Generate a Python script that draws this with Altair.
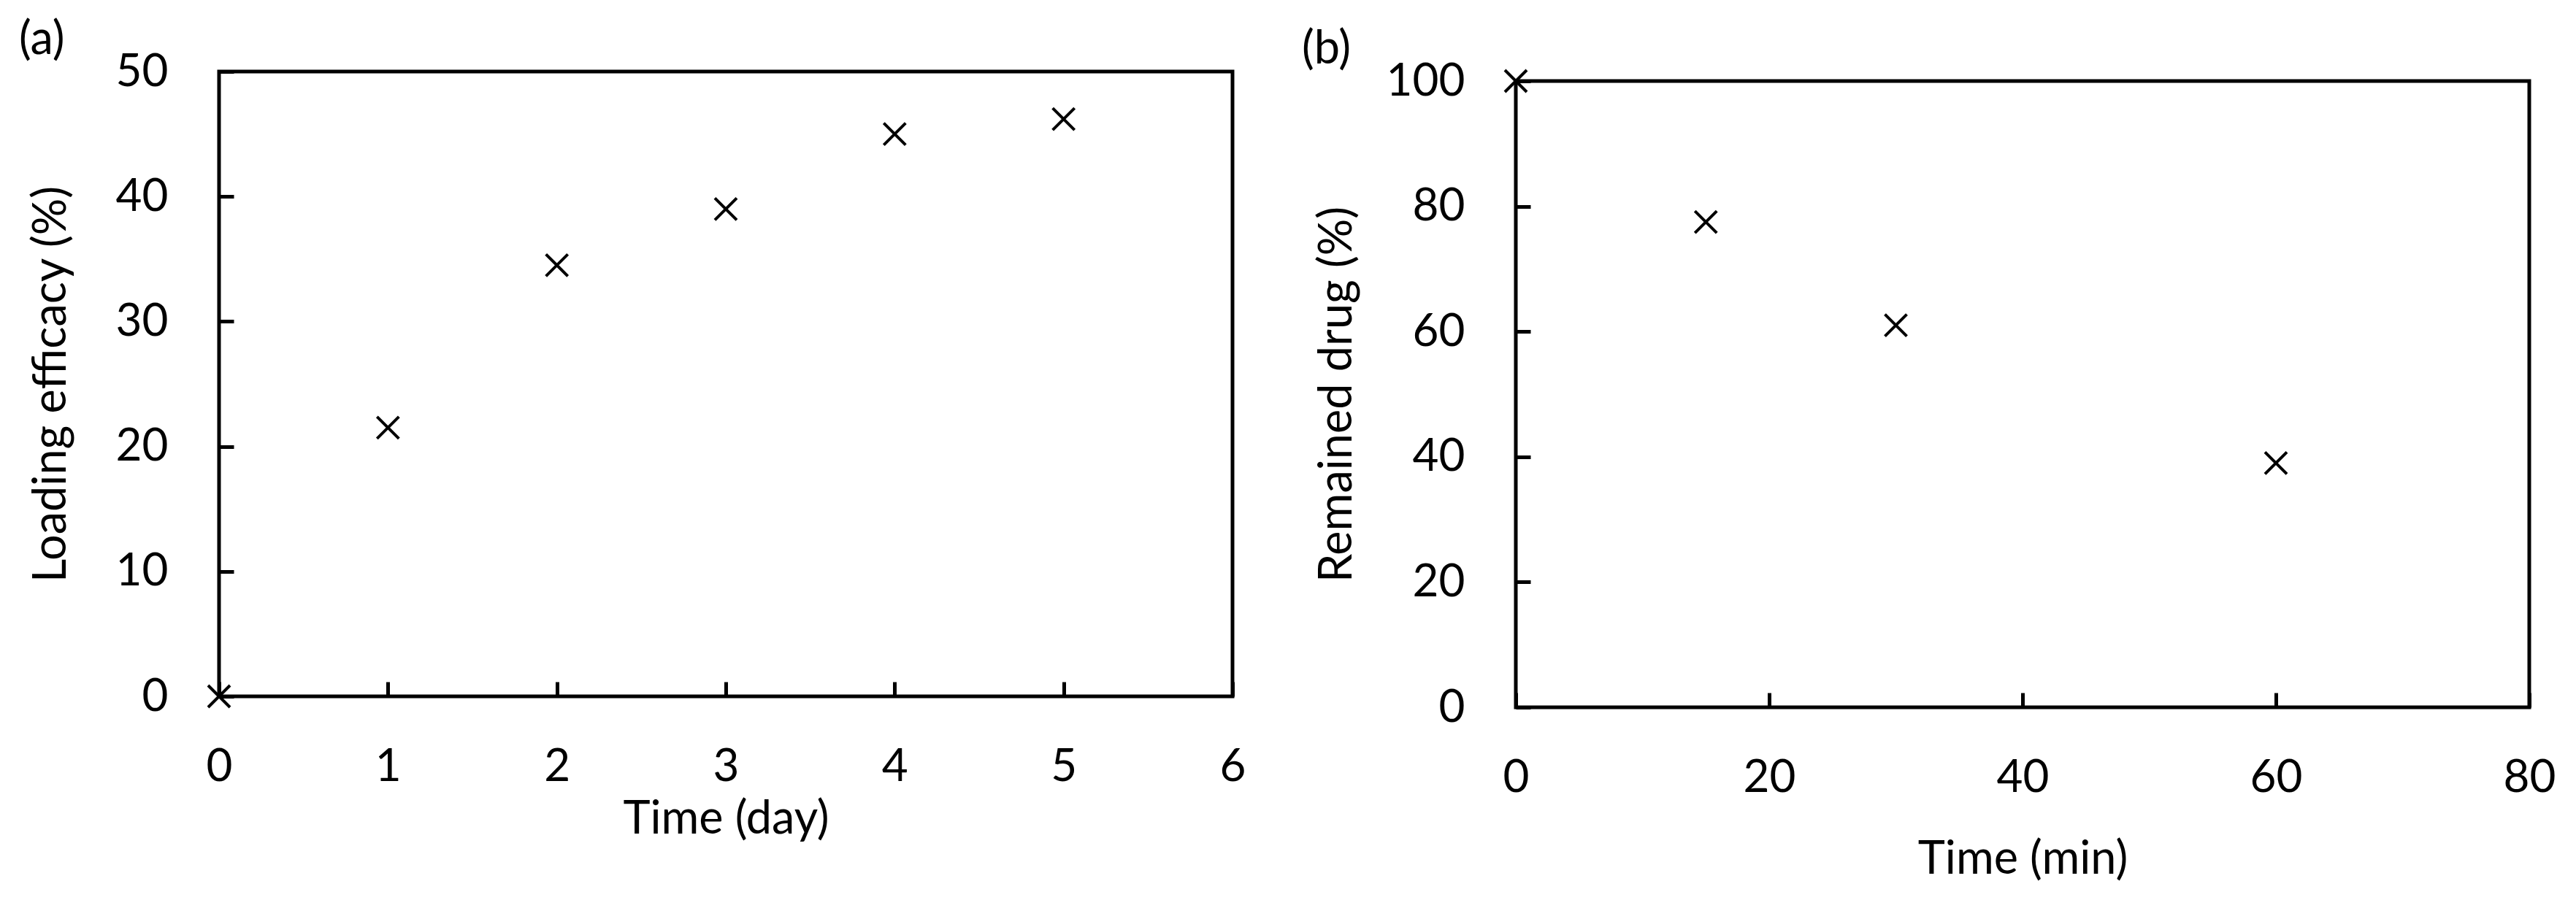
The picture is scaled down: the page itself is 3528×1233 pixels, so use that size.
import altair as alt
import pandas as pd

# Panel (a): loading efficacy vs time (day)
days = [0, 1, 2, 3, 4, 5]
loading = [0.0, 21.5, 34.5, 39.0, 45.0, 46.2]
xa_ticks = [0, 1, 2, 3, 4, 5, 6]
ya_ticks = [0, 10, 20, 30, 40, 50]

# Panel (b): remained drug vs time (min)
minutes = [0, 15, 30, 60]
remained = [100.0, 77.5, 61.0, 39.0]
xb_ticks = [0, 20, 40, 60, 80]
yb_ticks = [0, 20, 40, 60, 80, 100]

FONT = "Lato"
X_SHAPE = "M-1,-1L1,1M-1,1L1,-1"


def make_axis(**kw):
    base = dict(
        domain=False, grid=False, ticks=True, tickSize=20, tickWidth=5,
        tickColor="black", offset=-20, labelFont=FONT, labelFontSize=62,
        labelColor="black", labelFlush=False, labelOverlap=False,
        titleFont=FONT, titleFontSize=63, titleFontWeight="normal",
        titleColor="black",
    )
    base.update(kw)
    return alt.Axis(**base)


def panel(df, xf, yf, xdom, ydom, xt, yt, xtitle, ytitle, w, h,
          ytitle_pad, xtitle_pad, label, title_dx, title_off):
    return alt.Chart(df).mark_point(
        shape=X_SHAPE, filled=False, size=900, strokeWidth=4,
        color="black", opacity=1, clip=False,
    ).encode(
        x=alt.X(f"{xf}:Q", scale=alt.Scale(domain=xdom, nice=False, zero=True),
                axis=make_axis(values=xt, title=xtitle, labelPadding=66,
                               titlePadding=xtitle_pad)),
        y=alt.Y(f"{yf}:Q", scale=alt.Scale(domain=ydom, nice=False, zero=True),
                axis=make_axis(values=yt, title=ytitle, labelPadding=70,
                               titlePadding=ytitle_pad)),
    ).properties(
        width=w, height=h,
        view=alt.ViewBackground(stroke="black", strokeWidth=5, fill="white"),
        title=alt.TitleParams(label, anchor="start", frame="group", dx=title_dx,
                              offset=title_off, font=FONT, fontSize=63,
                              fontWeight="normal", color="black"),
    )


df_a = pd.DataFrame({"day": days, "load": loading})
df_b = pd.DataFrame({"minute": minutes, "drug": remained})

chart_a = panel(df_a, "day", "load", [0, 6], [0, 50], xa_ticks, ya_ticks,
                "Time (day)", "Loading efficacy (%)", 1388, 856,
                56, 10, "(a)", -274, -20)
chart_b = panel(df_b, "minute", "drug", [0, 80], [0, 100], xb_ticks, yb_ticks,
                "Time (min)", "Remained drug (%)", 1388, 858,
                35, 50, "(b)", -293, -20)

spacer = alt.Chart(pd.DataFrame({"v": [0]})).mark_point(opacity=0).encode(
    x=alt.X("v:Q", axis=None), y=alt.Y("v:Q", axis=None)
).properties(width=10, height=13, view=alt.ViewBackground(strokeWidth=0))

right = alt.vconcat(spacer, chart_b, spacing=0, bounds="flush")

chart = alt.hconcat(chart_a, right, spacing=388, bounds="flush").properties(
    padding={"left": 15, "top": 13, "right": 10, "bottom": 10},
    background="white",
).configure_view(strokeWidth=0)

chart.save("out.html", embed_options={"renderer": "svg", "actions": False})
